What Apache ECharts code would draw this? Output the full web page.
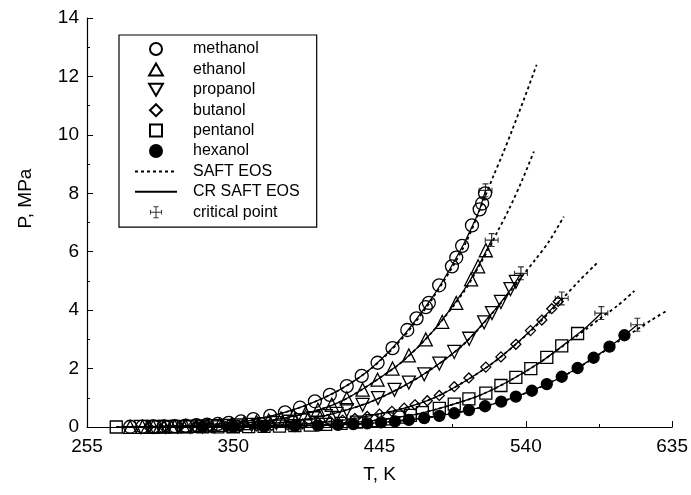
<!DOCTYPE html>
<html>
<head>
<meta charset="utf-8">
<script src="https://cdn.jsdelivr.net/npm/echarts@6/dist/echarts.min.js"></script>
<style>
html,body{margin:0;padding:0;background:#fff;}
#chart{width:691px;height:495px;}
</style>
</head>
<body>
<div id="chart"></div>
<script>
// ---------- data ----------
var xTicks = [255, 350, 445, 540, 635];
var yTicks = [0, 2, 4, 6, 8, 10, 12, 14];
var seriesNames = ['methanol','ethanol','propanol','butanol','pentanol','hexanol'];

// experimental points
var methanolT = [283,291,298,305,312,319,326,333,340,347,355,363,374,383.6,393.3,403,412.7,423.7,433.4,443.7,453.4,463,469,475,477,483.7,492,494.8,498.6,505,510,511.6,513.5];
var methanolP = [0.008,0.012,0.017,0.024,0.033,0.045,0.06,0.08,0.105,0.14,0.19,0.27,0.38,0.5,0.66,0.88,1.1,1.4,1.75,2.2,2.7,3.32,3.72,4.1,4.25,4.85,5.5,5.8,6.2,6.9,7.45,7.65,8.0];
var ethanolT = [283,291,298,305,312,319,326,333,341,349,357,365,373,381,389,397,405,414,423.7,434,443.7,453.4,464,475,485.7,494.8,504.4,509,514];
var ethanolP = [0.004,0.006,0.009,0.013,0.019,0.027,0.037,0.05,0.07,0.096,0.13,0.17,0.225,0.29,0.37,0.47,0.59,0.76,0.98,1.28,1.62,2.0,2.45,3.0,3.6,4.25,5.05,5.5,6.05];
var propanolT = [290,298,306,314,322,330,338,346,354,362,370,378,386,394,402,410,417,423.7,434,444,454.7,464,474,483.8,493.5,503.2,512.9,518,523.8,530,533.5];
var propanolP = [0.002,0.003,0.0045,0.007,0.011,0.017,0.025,0.036,0.052,0.073,0.1,0.135,0.18,0.235,0.3,0.37,0.45,0.58,0.76,0.99,1.27,1.52,1.8,2.17,2.57,3.02,3.58,3.9,4.28,4.72,4.97];
var butanolT = [295,305,315,325,335,345,355,365,375,385,395,405,413,421,429,437,445,453,461,468,476,483.8,493.5,503,514,523.8,533.5,543,550.4,556.8,561];
var butanolP = [0.001,0.002,0.004,0.006,0.01,0.016,0.026,0.04,0.056,0.079,0.108,0.147,0.186,0.235,0.29,0.36,0.44,0.535,0.645,0.76,0.9,1.08,1.38,1.68,2.05,2.4,2.83,3.3,3.66,4.05,4.3];
var pentanolT = [274,300,310,320,330,340,350,360,370,380,390,400,410,420,430,440,450,458,465,472.8,483.8,493.5,503,514,523.8,533.5,543.2,553.6,563.3,573.6];
var pentanolP = [0.0003,0.001,0.001,0.002,0.003,0.005,0.008,0.013,0.02,0.03,0.045,0.065,0.09,0.125,0.165,0.215,0.28,0.34,0.4,0.49,0.64,0.78,0.96,1.16,1.42,1.7,2.0,2.38,2.78,3.2];
var hexanolT = [330,350,370,390,405,418,428,437,446,455,464,474,483.8,493.5,503,513.5,524,533.5,543.9,553.6,563.3,573.6,584,594.3,604];
var hexanolP = [0.003,0.007,0.015,0.03,0.048,0.072,0.096,0.123,0.155,0.195,0.243,0.305,0.38,0.47,0.58,0.71,0.87,1.04,1.24,1.47,1.72,2.02,2.37,2.75,3.14];

// SAFT EOS curves (dotted)
var methanolSaftT = [280,300,320,340,360,380,400,420,440,460,480,500,514,519,525,531,539,547];
var methanolSaftP = [0.006,0.019,0.046,0.104,0.22,0.45,0.8,1.3,2.02,3.05,4.45,6.2,7.95,8.6,9.35,10.15,11.25,12.4];
var ethanolSaftT = [280,300,320,340,360,380,400,420,440,460,480,500,510,517.8,521.5,529,537.6,545.2];
var ethanolSaftP = [0.003,0.01,0.028,0.067,0.145,0.28,0.5,0.88,1.5,2.25,3.3,4.65,5.55,6.3,6.68,7.45,8.45,9.43];
var propanolSaftT = [290,320,350,380,400,420,440,460,480,500,520,530,536.6,546,555,564.6];
var propanolSaftP = [0.002,0.01,0.043,0.145,0.285,0.53,0.88,1.38,2.03,2.85,4.0,4.66,5.1,5.72,6.35,7.2];
var butanolSaftT = [295,330,360,390,420,440,460,480,500,520,540,555,563.3,574,586];
var butanolSaftP = [0.001,0.008,0.034,0.093,0.23,0.4,0.63,0.99,1.55,2.25,3.13,3.9,4.36,4.97,5.6];
var pentanolSaftT = [274,320,360,400,430,450,470,490,510,530,550,570,580,589,600,610.5];
var pentanolSaftP = [0.0003,0.002,0.013,0.065,0.165,0.28,0.45,0.73,1.08,1.6,2.24,3.0,3.38,3.75,4.17,4.66];
var hexanolSaftT = [330,370,410,440,470,490,510,530,550,570,590,600,612,621.5,631.2];
var hexanolSaftP = [0.003,0.015,0.057,0.13,0.28,0.44,0.66,0.97,1.38,1.9,2.56,2.93,3.33,3.66,3.97];

// CR SAFT EOS curves (solid)
var methanolCrT = [280,300,320,340,360,380,400,420,440,460,480,490,500,505,510,513.8];
var methanolCrP = [0.006,0.019,0.046,0.104,0.22,0.45,0.8,1.3,2.03,3.1,4.5,5.35,6.3,6.85,7.45,8.1];
var ethanolCrT = [280,300,320,340,360,380,400,420,440,460,480,500,510,517.8];
var ethanolCrP = [0.003,0.01,0.028,0.067,0.145,0.28,0.5,0.88,1.5,2.25,3.3,4.7,5.6,6.4];
var propanolCrT = [290,320,350,380,400,420,440,460,480,500,520,530,536.8];
var propanolCrP = [0.002,0.01,0.043,0.145,0.285,0.53,0.88,1.38,2.03,2.85,4.02,4.7,5.26];
var butanolCrT = [295,330,360,390,420,440,460,480,500,520,540,555,563.3];
var butanolCrP = [0.001,0.008,0.034,0.093,0.23,0.4,0.63,0.99,1.55,2.25,3.15,3.95,4.4];
var pentanolCrT = [274,320,360,400,430,450,470,490,510,530,550,570,580,589];
var pentanolCrP = [0.0003,0.002,0.013,0.065,0.165,0.28,0.45,0.73,1.08,1.6,2.24,3.03,3.45,3.9];
var hexanolCrT = [330,370,410,440,470,490,510,530,550,570,590,600,612.4];
var hexanolCrP = [0.003,0.015,0.057,0.13,0.28,0.44,0.66,0.97,1.38,1.91,2.58,2.97,3.5];

// critical points
var critT = [513.8, 517.8, 536.8, 563.3, 589, 612.4];
var critP = [8.1, 6.4, 5.26, 4.4, 3.9, 3.5];

// ---------- build ----------
function pairs(t, p){ var o=[]; for(var i=0;i<t.length;i++){o.push([t[i],p[i]]);} return o; }

var FONT = '"Liberation Sans", Arial, Helvetica, sans-serif';
var symUp = 'path://M0,13 L7.5,0 L15,13 Z';
var symDown = 'path://M0,0 L15,0 L7.5,13 Z';
var symDiamond = 'path://M5,0 L10,5 L5,10 L0,5 Z';
var symSquare = 'path://M0,0 L10,0 L10,10 L0,10 Z';
var symCrit = 'path://M6.4,0 H7.6 V6.4 H14 V7.6 H7.6 V14 H6.4 V7.6 H0 V6.4 H6.4 Z M4,0 H10 V1.1 H4 Z M4,12.9 H10 V14 H4 Z M0,4.4 H1.1 V9.6 H0 Z M12.9,4.4 H14 V9.6 H12.9 Z';

var expSets = [
  {name:'methanol', t:methanolT, p:methanolP, sym:'circle', size:13, fill:'rgba(0,0,0,0)'},
  {name:'ethanol', t:ethanolT, p:ethanolP, sym:symUp, size:13, fill:'rgba(0,0,0,0)'},
  {name:'propanol', t:propanolT, p:propanolP, sym:symDown, size:13, fill:'rgba(0,0,0,0)'},
  {name:'butanol', t:butanolT, p:butanolP, sym:symDiamond, size:10, fill:'rgba(0,0,0,0)'},
  {name:'pentanol', t:pentanolT, p:pentanolP, sym:symSquare, size:12, fill:'rgba(0,0,0,0)'},
  {name:'hexanol', t:hexanolT, p:hexanolP, sym:'circle', size:11, fill:'#000'}
];
var saftSets = [[methanolSaftT,methanolSaftP],[ethanolSaftT,ethanolSaftP],[propanolSaftT,propanolSaftP],[butanolSaftT,butanolSaftP],[pentanolSaftT,pentanolSaftP],[hexanolSaftT,hexanolSaftP]];
var crSets = [[methanolCrT,methanolCrP],[ethanolCrT,ethanolCrP],[propanolCrT,propanolCrP],[butanolCrT,butanolCrP],[pentanolCrT,pentanolCrP],[hexanolCrT,hexanolCrP]];

var series = [];
var hiddenDot = {color:'rgba(0,0,0,0)', borderColor:'rgba(0,0,0,0)', borderWidth:0};
saftSets.forEach(function(s){
  series.push({type:'line', name:'SAFT EOS', data:pairs(s[0],s[1]), smooth:0.3, symbol:'none',
    itemStyle:hiddenDot, lineStyle:{color:'#000', width:1.8, type:[3,3]}, z:2, silent:true});
});
crSets.forEach(function(s){
  series.push({type:'line', name:'CR SAFT EOS', data:pairs(s[0],s[1]), smooth:0.3, symbol:'none',
    itemStyle:hiddenDot, lineStyle:{color:'#000', width:1.3, type:'solid'}, z:2, silent:true});
});
expSets.forEach(function(s){
  series.push({type:'scatter', name:s.name, data:pairs(s.t,s.p), symbol:s.sym, symbolSize:s.size,
    itemStyle:{color:s.fill, borderColor:'#000', borderWidth:1.3, opacity:1}, z:3, silent:true});
});
series.push({type:'scatter', name:'critical point', data:pairs(critT,critP), symbol:symCrit, symbolSize:14,
  itemStyle:{color:'#000', borderWidth:0}, z:4, silent:true});

var legendNames = seriesNames.concat(['SAFT EOS','CR SAFT EOS','critical point']);

var chart = echarts.init(document.getElementById('chart'), null, {renderer:'canvas'});
chart.setOption({
  animation:false,
  backgroundColor:'#fff',
  grid:{left:87, right:17, top:18, bottom:68, containLabel:false},
  legend:{
    data:legendNames, orient:'vertical', left:119, top:35,
    itemWidth:42, itemHeight:12, itemGap:4.4,
    padding:[6,17,7,15],
    borderColor:'#000', borderWidth:1.2,
    selectedMode:false,
    textStyle:{fontFamily:FONT, fontSize:16, color:'#000', lineHeight:16, padding:[0,0,0,11]}
  },
  xAxis:{
    type:'value', min:xTicks[0], max:xTicks[xTicks.length-1], interval:95,
    name:'T, K', nameLocation:'middle', nameGap:38,
    nameTextStyle:{fontFamily:FONT, fontSize:19, color:'#000'},
    axisLine:{show:true, onZero:false, lineStyle:{color:'#000', width:1.2}},
    axisTick:{show:true, inside:true, length:6, lineStyle:{color:'#000', width:1}},
    minorTick:{show:true, splitNumber:2, length:3, lineStyle:{color:'#000', width:1}},
    splitLine:{show:false},
    axisLabel:{fontFamily:FONT, fontSize:19, color:'#000', margin:10}
  },
  yAxis:{
    type:'value', min:yTicks[0], max:yTicks[yTicks.length-1], interval:2,
    name:'P, MPa', nameLocation:'middle', nameGap:52,
    nameTextStyle:{fontFamily:FONT, fontSize:19, color:'#000', padding:[0,0,0,48]},
    axisLine:{show:true, lineStyle:{color:'#000', width:1.2}},
    axisTick:{show:true, inside:true, length:6, lineStyle:{color:'#000', width:1}},
    minorTick:{show:true, splitNumber:2, length:3, lineStyle:{color:'#000', width:1}},
    splitLine:{show:false},
    axisLabel:{fontFamily:FONT, fontSize:19, color:'#000', margin:8}
  },
  series:series
});
</script>
</body>
</html>
